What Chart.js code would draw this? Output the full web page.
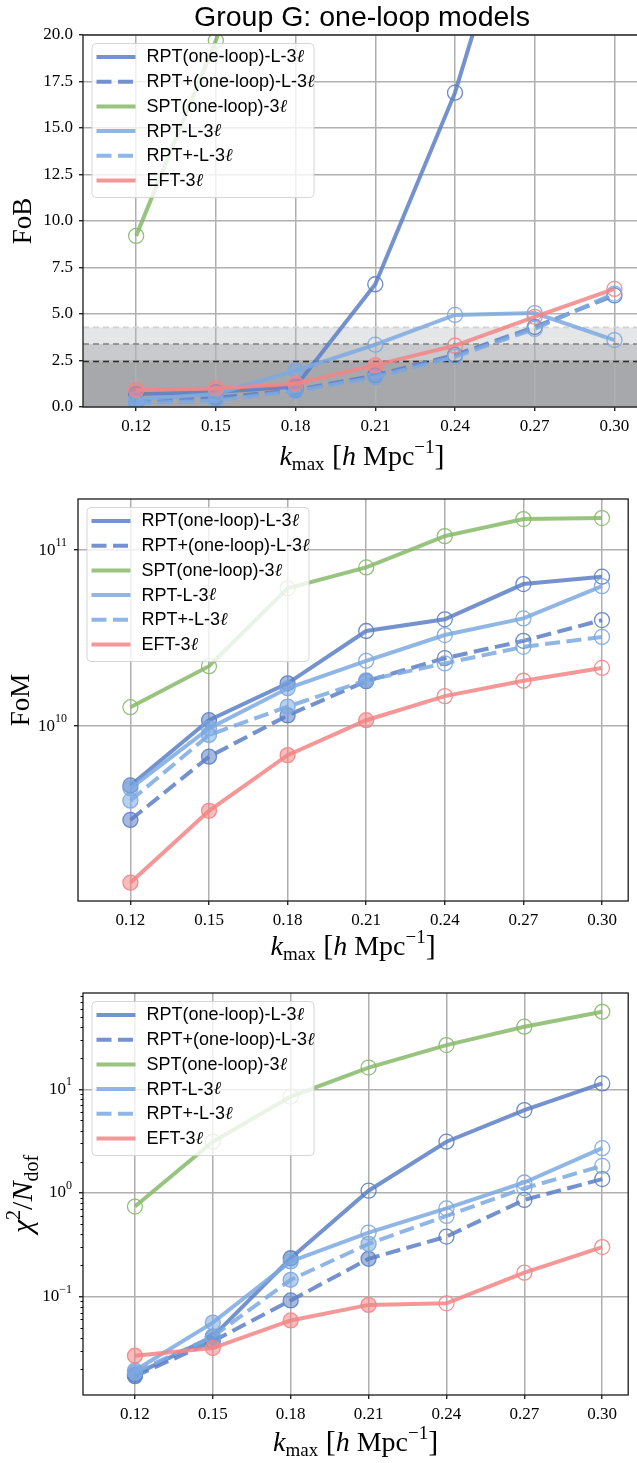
<!DOCTYPE html>
<html>
<head>
<meta charset="utf-8">
<script src="https://cdn.jsdelivr.net/npm/chart.js@4.4.1/dist/chart.umd.min.js"></script>
<style>
  html, body { margin: 0; padding: 0; background: #fff; overflow: hidden; }
  body { width: 637px; height: 1463px; position: relative; }
  canvas { position: absolute; left: 0; }
</style>
</head>
<body>
<canvas id="fobChart"></canvas>
<canvas id="fomChart"></canvas>
<canvas id="chiChart"></canvas>
<script>
// ---- data ----
const kmax = [0.12, 0.15, 0.18, 0.21, 0.24, 0.27, 0.30];
const modelNames = ['RPT(one-loop)-L-3ℓ', 'RPT+(one-loop)-L-3ℓ', 'SPT(one-loop)-3ℓ', 'RPT-L-3ℓ', 'RPT+-L-3ℓ', 'EFT-3ℓ'];

// figure of bias
const fobRptLoop     = [0.7, 0.8, 1.1, 6.6, 16.9, 31, 45];
const fobRptPlusLoop = [0.3, 0.5, 0.9, 1.7, 2.8, 4.3, 6.0];
const fobSpt         = [9.2, 19.7, 32, 48, 65, 85, 105];
const fobRptL        = [0.4, 0.7, 1.95, 3.35, 4.95, 5.05, 3.6];
const fobRptPlusL    = [0.2, 0.35, 0.85, 1.6, 2.7, 4.2, 6.1];
const fobEft         = [0.9, 1.0, 1.25, 2.25, 3.3, 4.85, 6.35];

// figure of merit
const fomRptLoop     = [4.6e9, 1.08e10, 1.75e10, 3.47e10, 4.04e10, 6.41e10, 7.06e10];
const fomRptPlusLoop = [2.93e9, 6.7e9, 1.15e10, 1.8e10, 2.43e10, 3.05e10, 4.0e10];
const fomSpt         = [1.28e10, 2.19e10, 6.06e10, 7.97e10, 1.2e11, 1.5e11, 1.52e11];
const fomRptL        = [4.43e9, 9.7e9, 1.64e10, 2.35e10, 3.29e10, 4.09e10, 6.24e10];
const fomRptPlusL    = [3.77e9, 8.9e9, 1.29e10, 1.82e10, 2.27e10, 2.82e10, 3.21e10];
const fomEft         = [1.29e9, 3.3e9, 6.84e9, 1.08e10, 1.48e10, 1.81e10, 2.14e10];

// reduced chi-square
const chiRptLoop     = [0.0176, 0.041, 0.234, 1.05, 3.12, 6.3, 11.4];
const chiRptPlusLoop = [0.017, 0.037, 0.0916, 0.231, 0.379, 0.856, 1.36];
const chiSpt         = [0.738, 3.12, 8.5, 16.2, 26.7, 40.2, 56];
const chiRptL        = [0.0193, 0.056, 0.218, 0.414, 0.71, 1.26, 2.7];
const chiRptPlusL    = [0.0185, 0.041, 0.145, 0.322, 0.6, 1.11, 1.82];
const chiEft         = [0.0268, 0.0318, 0.0587, 0.083, 0.086, 0.17, 0.30];

// ticks and threshold levels
const kTicks = [0.12, 0.15, 0.18, 0.21, 0.24, 0.27, 0.30];
const fobTicks = [0, 2.5, 5, 7.5, 10, 12.5, 15, 17.5, 20];
const fomTicks = [1e10, 1e11];
const chiTicks = [0.1, 1, 10];
const fobLevels = [2.45, 3.39, 4.28];

const fobAll = [fobRptLoop, fobRptPlusLoop, fobSpt, fobRptL, fobRptPlusL, fobEft];
const fomAll = [fomRptLoop, fomRptPlusLoop, fomSpt, fomRptL, fomRptPlusL, fomEft];
const chiAll = [chiRptLoop, chiRptPlusLoop, chiSpt, chiRptL, chiRptPlusL, chiEft];

// ---- styles ----
const seriesStyle = [
    { rgb: '92,127,197', dash: [] },
    { rgb: '92,127,197', dash: [15, 6.5] },
    { rgb: '135,186,104', dash: [] },
    { rgb: '124,169,224', dash: [] },
    { rgb: '124,169,224', dash: [15, 6.5] },
    { rgb: '243,133,133', dash: [] }
];
const rgba = (rgb, a) => 'rgba(' + rgb + ',' + a + ')';

const panels = {
    fob: { top: 0,   width: 650, height: 478, area: { left: 83, top: 35, right: 641, bottom: 407 }, xTitleY: 465, yTitleX: 31 },
    fom: { top: 478, width: 637, height: 484, area: { left: 78, top: 21, right: 636, bottom: 423 }, xTitleY: 477, yTitleX: 29 },
    chi: { top: 962, width: 637, height: 501, area: { left: 83, top: 31, right: 635, bottom: 433 }, xTitleY: 489, yTitleX: 32 }
};

const serif = '"Liberation Serif", "DejaVu Serif", serif';
const sans = '"Liberation Sans", Arial, sans-serif';

function drawRich(ctx, parts, x, y, align) {
    let total = 0;
    parts.forEach(p => { ctx.font = p.font; p.w = ctx.measureText(p.t).width; total += p.w; });
    let cx = align === 'center' ? x - total / 2 : (align === 'right' ? x - total : x);
    ctx.textAlign = 'left';
    parts.forEach(p => { ctx.font = p.font; ctx.fillText(p.t, cx, y + (p.dy || 0)); cx += p.w; });
}

function makeDatasets(seriesList) {
    const n = seriesList.length;
    return seriesList.map((vals, i) => {
        const st = seriesStyle[i];
        return {
            label: modelNames[i],
            data: kmax.map((k, j) => ({ x: k, y: vals[j] })),
            borderColor: rgba(st.rgb, 0.85),
            borderWidth: 4,
            borderDash: st.dash,
            pointRadius: 7.5,
            pointBorderWidth: 1.3,
            pointBorderColor: rgba(st.rgb, 0.9),
            pointBackgroundColor: fobAll[i].map(f => f < fobLevels[0] ? rgba(st.rgb, 0.55) : 'rgba(0,0,0,0)'),
            order: n - 1 - i,
            clip: 0,
            tension: 0,
            fill: false
        };
    });
}

// ---- plugins ----
const bandsPlugin = {
    id: 'bands',
    beforeDraw(chart) {
        const { ctx, chartArea: a, scales: { y } } = chart;
        const cols = ['#a7a8ab', '#c9cacd', '#e5e6e8'];
        ctx.save();
        let lo = 0;
        fobLevels.forEach((lv, i) => {
            const yt = y.getPixelForValue(lv), yb = y.getPixelForValue(lo);
            ctx.fillStyle = cols[i];
            ctx.fillRect(a.left, yt, a.right - a.left, yb - yt);
            lo = lv;
        });
        ctx.restore();
    },
    beforeDatasetsDraw(chart) {
        const { ctx, chartArea: a, scales: { y } } = chart;
        const cols = ['#2a2a2a', '#808080', '#d2d2d2'];
        ctx.save();
        ctx.lineWidth = 1.6;
        ctx.setLineDash([6, 4]);
        fobLevels.forEach((lv, i) => {
            const py = y.getPixelForValue(lv);
            ctx.strokeStyle = cols[i];
            ctx.beginPath();
            ctx.moveTo(a.left, py);
            ctx.lineTo(a.right, py);
            ctx.stroke();
        });
        ctx.restore();
    }
};

const framePlugin = {
    id: 'frame',
    afterDatasetsDraw(chart) {
        const { ctx, chartArea: a } = chart;
        ctx.save();
        ctx.strokeStyle = '#1a1a1a';
        ctx.lineWidth = 1.3;
        ctx.strokeRect(a.left, a.top, a.right - a.left, a.bottom - a.top);
        ctx.restore();
    }
};

const boxLegend = {
    id: 'boxLegend',
    afterDraw(chart) {
        const { ctx, chartArea } = chart;
        const x0 = chartArea.left + 9, y0 = chartArea.top + 8.5;
        ctx.save();
        ctx.beginPath();
        if (ctx.roundRect) ctx.roundRect(x0, y0, 222, 154, 4); else ctx.rect(x0, y0, 222, 154);
        ctx.fillStyle = 'rgba(255,255,255,0.8)';
        ctx.fill();
        ctx.strokeStyle = 'rgba(204,204,204,0.8)';
        ctx.lineWidth = 1;
        ctx.stroke();
        chart.data.datasets.forEach((ds, i) => {
            const y = y0 + 13.5 + i * 24.7;
            ctx.beginPath();
            ctx.setLineDash(ds.borderDash || []);
            ctx.strokeStyle = ds.borderColor;
            ctx.lineWidth = 4;
            ctx.moveTo(x0 + 4.5, y);
            ctx.lineTo(x0 + 43.5, y);
            ctx.stroke();
            ctx.setLineDash([]);
            ctx.fillStyle = '#000';
            ctx.textBaseline = 'middle';
            drawRich(ctx, [
                { t: ds.label.replace('ℓ', ''), font: '18px ' + sans },
                { t: 'ℓ', font: 'italic 18px ' + serif }
            ], x0 + 54.5, y + 0.5, 'left');
        });
        ctx.restore();
    }
};

function textPlugin(panel, yTitle, opts) {
    return {
        id: 'texts',
        afterDraw(chart) {
            const { ctx, chartArea: a, scales: { y } } = chart;
            ctx.save();
            ctx.fillStyle = '#000';
            ctx.textBaseline = 'alphabetic';
            // x axis title
            drawRich(ctx, [
                { t: 'k', font: 'italic 28px ' + serif },
                { t: 'max', font: '19px ' + serif, dy: 5 },
                { t: ' [', font: '30px ' + serif },
                { t: 'h', font: 'italic 28px ' + serif },
                { t: ' Mpc', font: '28px ' + serif },
                { t: '−1', font: '19px ' + serif, dy: -12 },
                { t: ']', font: '30px ' + serif }
            ], (a.left + a.right) / 2, panel.xTitleY, 'center');
            // y axis title
            ctx.save();
            ctx.translate(panel.yTitleX, (a.top + a.bottom) / 2);
            ctx.rotate(-Math.PI / 2);
            drawRich(ctx, yTitle, 0, 0, 'center');
            ctx.restore();
            // log tick labels
            if (opts.logTicks) {
                ctx.textBaseline = 'middle';
                opts.logTicks.forEach(v => {
                    const e = Math.round(Math.log10(v));
                    drawRich(ctx, [
                        { t: '10', font: '17px ' + serif },
                        { t: String(e).replace('-', '−'), font: '12px ' + serif, dy: -7 }
                    ], a.left - 11, y.getPixelForValue(v), 'right');
                });
            }
            // minor ticks on the log axis
            if (opts.minor) {
                ctx.strokeStyle = '#000';
                ctx.lineWidth = 1;
                for (let d = -3; d <= 2; d++) {
                    for (let m = 2; m <= 9; m++) {
                        const v = m * Math.pow(10, d);
                        if (v < y.min || v > y.max) continue;
                        const py = Math.round(y.getPixelForValue(v)) + 0.5;
                        ctx.beginPath();
                        ctx.moveTo(a.left - 2.5, py);
                        ctx.lineTo(a.left, py);
                        ctx.stroke();
                    }
                }
            }
            // figure title
            if (opts.title) {
                ctx.textBaseline = 'alphabetic';
                ctx.textAlign = 'center';
                ctx.font = '28.5px ' + sans;
                ctx.fillText(opts.title, (a.left + a.right) / 2, 26);
            }
            ctx.restore();
        }
    };
}

const gridOpts = { color: '#b0b0b0', lineWidth: 1.5, tickColor: '#000', tickLength: 4, tickWidth: 1.2 };
const tickFont = { family: serif, size: 17 };

function buildChart(id, panel, yOpts, series, plugins) {
    const canvas = document.getElementById(id);
    canvas.width = panel.width;
    canvas.height = panel.height;
    canvas.style.top = panel.top + 'px';
    canvas.style.width = panel.width + 'px';
    canvas.style.height = panel.height + 'px';
    return new Chart(canvas.getContext('2d'), {
        type: 'line',
        data: { datasets: makeDatasets(series) },
        options: {
            responsive: false,
            animation: false,
            devicePixelRatio: 1,
            layout: { padding: { left: 0, top: panel.area.top, right: panel.width - panel.area.right, bottom: 0 } },
            plugins: { legend: { display: false }, tooltip: { enabled: false }, title: { display: false } },
            scales: {
                x: {
                    type: 'linear',
                    min: 0.1,
                    max: 0.31,
                    afterBuildTicks: s => { s.ticks = kTicks.map(v => ({ value: v })); },
                    afterFit: s => { s.height = panel.height - panel.area.bottom; },
                    ticks: { callback: v => v.toFixed(2), font: tickFont, color: '#000', padding: 5, maxRotation: 0, autoSkip: false },
                    grid: gridOpts,
                    border: { display: false }
                },
                y: Object.assign({
                    afterFit: s => { s.width = panel.area.left; },
                    grid: gridOpts,
                    border: { display: false }
                }, yOpts)
            }
        },
        plugins: plugins
    });
}

buildChart('fobChart', panels.fob, {
    type: 'linear', min: 0, max: 20,
    afterBuildTicks: s => { s.ticks = fobTicks.map(v => ({ value: v })); },
    ticks: { callback: v => v.toFixed(1), font: tickFont, color: '#000', padding: 6, autoSkip: false }
}, fobAll, [bandsPlugin, framePlugin, boxLegend,
    textPlugin(panels.fob, [{ t: 'FoB', font: '27px ' + serif }], { title: 'Group G: one-loop models' })]);

buildChart('fomChart', panels.fom, {
    type: 'logarithmic', min: 1.015e9, max: 1.95e11,
    afterBuildTicks: s => { s.ticks = fomTicks.map(v => ({ value: v })); },
    ticks: { callback: () => '', font: tickFont, padding: 6, autoSkip: false }
}, fomAll, [framePlugin, boxLegend,
    textPlugin(panels.fom, [{ t: 'FoM', font: '27px ' + serif }], { logTicks: fomTicks })]);

buildChart('chiChart', panels.chi, {
    type: 'logarithmic', min: 0.0112, max: 85,
    afterBuildTicks: s => { s.ticks = chiTicks.map(v => ({ value: v })); },
    ticks: { callback: () => '', font: tickFont, padding: 6, autoSkip: false }
}, chiAll, [framePlugin, boxLegend,
    textPlugin(panels.chi, [
        { t: 'χ', font: 'italic 30px ' + serif },
        { t: '2', font: '20px ' + serif, dy: -12 },
        { t: '/', font: '30px ' + serif },
        { t: 'N', font: 'italic 30px ' + serif },
        { t: 'dof', font: '20px ' + serif, dy: 6 }
    ], { logTicks: chiTicks, minor: true })]);
</script>
</body>
</html>
